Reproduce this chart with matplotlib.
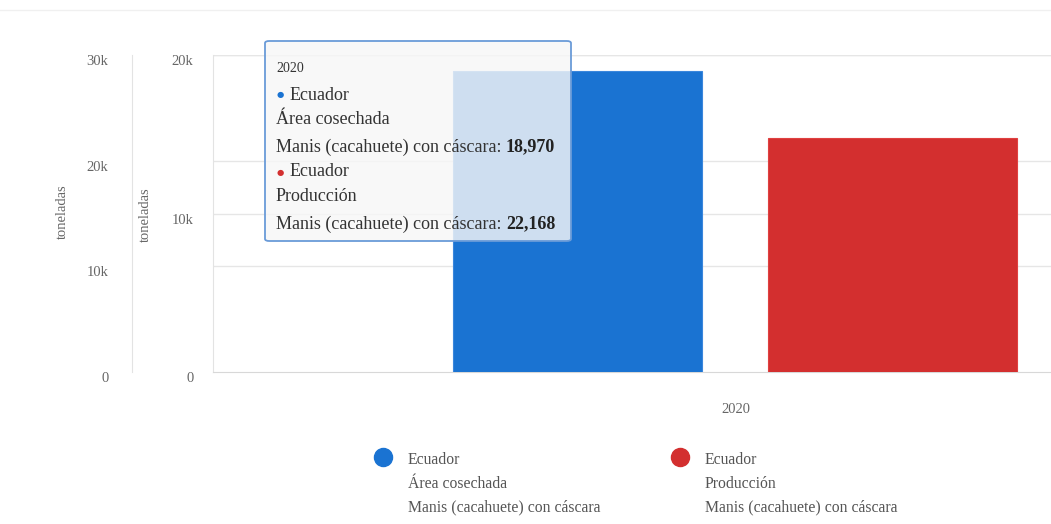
import matplotlib
matplotlib.use("Agg")
import matplotlib.pyplot as plt
from matplotlib.patches import FancyBboxPatch
from matplotlib.lines import Line2D
from matplotlib.transforms import ScaledTranslation

# data
categories = ["2020"]
area_cosechada = [18970]
produccion = [22168]
series_names = ["Ecuador\nÁrea cosechada\nManis (cacahuete) con cáscara",
                "Ecuador\nProducción\nManis (cacahuete) con cáscara"]
unit = "toneladas"
inner_ticks = [0, 10000, 20000]
outer_ticks = [0, 10000, 20000, 30000]
inner_max, outer_max = 20000, 30000

BLUE = "#1a73d2"
RED = "#d32f2f"
GRAY = "#666666"
GRID = "#e6e6e6"

plt.rcParams['font.family'] = ['Liberation Serif', 'DejaVu Serif']

W, H = 1051, 524
fig = plt.figure(figsize=(W / 100, H / 100), dpi=100)

def fx(x):
    return x / W

def fy(y):
    return 1 - y / H

left, right, top, bottom = 213, 1051, 55, 372
rect = [fx(left), fy(bottom), fx(right - left), (bottom - top) / H]
ax = fig.add_axes(rect)                 # inner axis 0-20k
ax2 = fig.add_axes(rect, sharex=ax)     # outer axis 0-30k
ax2.patch.set_visible(False)

ax.set_ylim(0, inner_max)
ax2.set_ylim(0, outer_max)

# grid lines of both scales, drawn under the bars on the bottom axes
for v in inner_ticks[1:]:
    ax.axhline(v, color=GRID, lw=1, zorder=0)
for v in outer_ticks[1:]:
    ax.axhline(v * inner_max / outer_max, color=GRID, lw=1, zorder=0)

bw = 0.238
ax.bar([-0.151], area_cosechada, width=bw, color=BLUE, edgecolor="#3a86dc", lw=0.8, zorder=3)
ax2.bar([0.150], produccion, width=bw, color=RED, edgecolor="#e04040", lw=0.8, zorder=3)
ax.set_xlim(-0.5, 0.302)

for s in ('top', 'right'):
    ax.spines[s].set_visible(False)
    ax2.spines[s].set_visible(False)
ax.spines['left'].set_color("#e3e3e3")
ax.spines['bottom'].set_color("#d8d8d8")
ax2.spines['bottom'].set_visible(False)
ax2.spines['left'].set_position(('outward', (213 - 132) * 0.72))
ax2.spines['left'].set_color("#e3e3e3")

def fmt(v):
    return "0" if v == 0 else "%dk" % (v // 1000)

ax.set_xticks([0])
ax.set_xticklabels(categories)
ax.tick_params(axis='x', length=0, pad=22, labelcolor=GRAY, labelsize=10.5)
ax2.tick_params(axis='x', bottom=False, labelbottom=False)

ax.set_yticks(inner_ticks)
ax.set_yticklabels([fmt(v) for v in inner_ticks])
ax.tick_params(axis='y', length=0, pad=14, labelcolor=GRAY, labelsize=10.5)
ax2.set_yticks(outer_ticks)
ax2.set_yticklabels([fmt(v) for v in outer_ticks])
ax2.tick_params(axis='y', length=0, pad=17, labelcolor=GRAY, labelsize=10.5)

fig.text(fx(62), fy(212), unit, rotation=90, ha='center', va='center', color=GRAY, fontsize=10.5)
fig.text(fx(145), fy(215), unit, rotation=90, ha='center', va='center', color=GRAY, fontsize=10.5)

# faint line at the very top
fig.add_artist(Line2D([0, 1], [fy(10), fy(10)], color="#f0f0f0", lw=1))

# tooltip
box = FancyBboxPatch((fx(265), fy(241)), fx(571 - 265), (241 - 41) / H,
                     boxstyle="round,pad=0,rounding_size=0.004",
                     transform=fig.transFigure, facecolor="#f7f7f7", alpha=0.82,
                     edgecolor="none", zorder=10)
fig.add_artist(box)
border = FancyBboxPatch((fx(265), fy(241)), fx(571 - 265), (241 - 41) / H,
                        boxstyle="round,pad=0,rounding_size=0.004",
                        transform=fig.transFigure, facecolor="none",
                        edgecolor="#6a9bd8", lw=1.3, zorder=11)
fig.add_artist(border)

tx = 276
fs = 13
fig.text(fx(tx), fy(68), categories[0], fontsize=10, color="#333333", va='center', zorder=12)
rows = [
    (95, "Ecuador", BLUE, None),
    (120, "Área cosechada", None, None),
    (147, "Manis (cacahuete) con cáscara: ", None, area_cosechada[0]),
    (172, "Ecuador", RED, None),
    (197, "Producción", None, None),
    (224, "Manis (cacahuete) con cáscara: ", None, produccion[0]),
]
fig.canvas.draw()
r = fig.canvas.get_renderer()
for y, txt, dot, val in rows:
    x0 = tx
    if dot:
        fig.text(fx(tx + 1), fy(y), "\u25cf", fontsize=6, color=dot, va='center', zorder=12,
                 family='DejaVu Sans')
        x0 = tx + 14
    t = fig.text(fx(x0), fy(y), txt, fontsize=fs, color="#333333", va='center', zorder=12)
    if val is not None:
        bb = t.get_window_extent(renderer=r)
        fig.text(bb.x1 / W, fy(y), "{:,}".format(val), fontsize=fs, color="#222222",
                 fontweight='bold', va='center', zorder=12)

# y tick labels sit a little below their grid lines
shift = ScaledTranslation(0, -5 / 100, fig.dpi_scale_trans)
for a in (ax, ax2):
    for lab in a.get_yticklabels():
        lab.set_transform(lab.get_transform() + shift)

# legend
for cx, col, name in [(383, BLUE, series_names[0]), (680, RED, series_names[1])]:
    fig.add_artist(Line2D([fx(cx)], [fy(457)], marker='o', markersize=13,
                          color=col, lw=0))
    for i, line in enumerate(name.split("\n")):
        fig.text(fx(cx + 25), fy(460 + 23.5 * i), line, fontsize=11.3, color="#555555",
                 va='center')

fig.savefig("out.png", dpi=100)
